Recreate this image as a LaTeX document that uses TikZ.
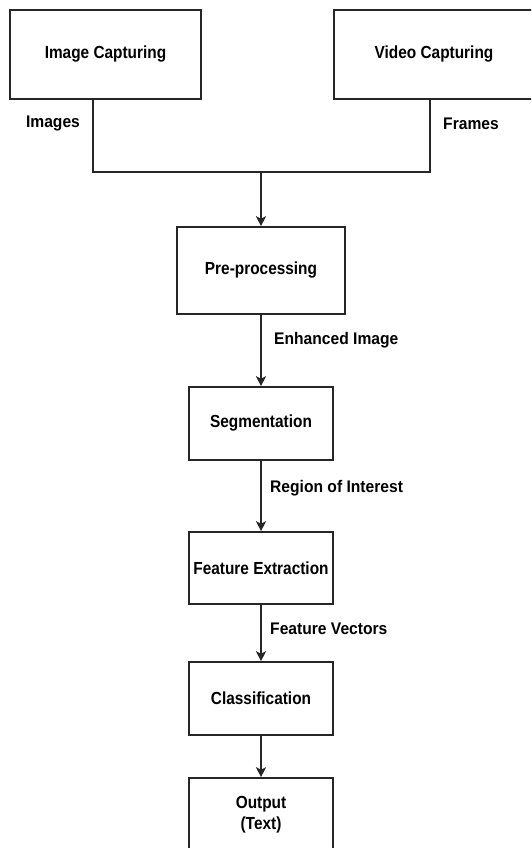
\documentclass[tikz,border=0pt]{standalone}
\usepackage{fontspec}
\setmainfont{Liberation Sans}
\newfontfamily\boxfont{Liberation Sans}[FakeStretch=0.88]
\newfontfamily\lblfont{Liberation Sans}[FakeStretch=0.93]
\usetikzlibrary{arrows.meta,calc}
\begin{document}
\begin{tikzpicture}[x=1pt,y=-1pt,
  box/.style={draw=black!85,line width=1.6pt,fill=white,align=center,inner sep=0pt,font=\boxfont\bfseries\fontsize{17.5}{21}\selectfont},
  lbl/.style={inner sep=0pt,font=\lblfont\bfseries\fontsize{16.8}{20}\selectfont},
  conn/.style={draw=black!85,line width=1.8pt},
  arr/.style={conn,-{Stealth[length=10pt,width=10pt,inset=2.5pt]}}]
\useasboundingbox (0,0) rectangle (531,848);
\clip (0,0) rectangle (531,848);
\node[box,minimum width=191pt,minimum height=89pt] (ic) at (105.5,54.5) {Image Capturing};
\node[box,minimum width=200pt,minimum height=89pt] (vc) at (434,54.5) {Video Capturing};
\node[box,minimum width=168pt,minimum height=87pt] (pre) at (261,270.5) {Pre-processing};
\node[box,minimum width=144pt,minimum height=73pt] (seg) at (261,423.5) {Segmentation};
\node[box,minimum width=144pt,minimum height=72pt] (fe) at (261,568) {Feature Extraction};
\node[box,minimum width=144pt,minimum height=73pt] (cls) at (261,698.5) {Classification};
\node[box,minimum width=144pt,minimum height=73pt] (out) at (261,814.5) {Output\\(Text)};
\coordinate (jl) at (93,172);
\coordinate (jr) at (430,172);
\coordinate (jm) at (261,172);
\draw[conn] (ic.south -| jl) -- (jl) -- (jr) -- (vc.south -| jr);
\draw[arr] (jm) -- (pre.north);
\draw[arr] (pre) -- (seg);
\draw[arr] (seg) -- (fe);
\draw[arr] (fe) -- (cls);
\draw[arr] (cls) -- (out);
\node[lbl] (limg) at (53,124) {Images};
\node[lbl] (lfr) at (471,124) {Frames};
\node[lbl,anchor=west] (lenh) at (274,340) {Enhanced Image};
\node[lbl,anchor=west] (lroi) at (270,488) {Region of Interest};
\node[lbl,anchor=west] (lfv) at (270,629) {Feature Vectors};
\end{tikzpicture}
\end{document}
